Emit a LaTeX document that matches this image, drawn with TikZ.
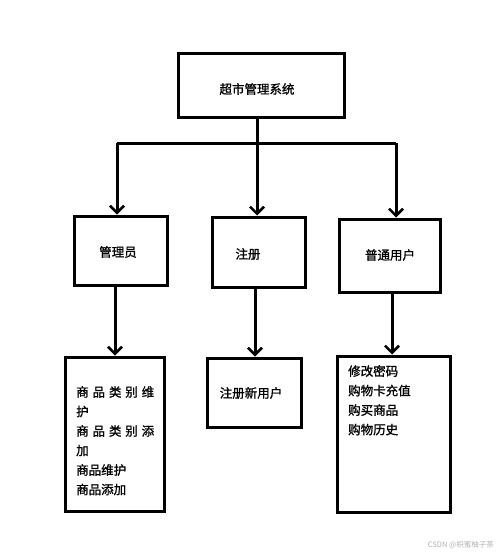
\documentclass[tikz,border=0pt]{standalone}
\usepackage{fontspec}
\newfontfamily\cjk{Noto Sans CJK SC}[FakeBold=1.2]
\newfontfamily\cjkthin{Noto Sans CJK SC}
\usetikzlibrary{arrows.meta}
\begin{document}
\begin{tikzpicture}[x=1pt,y=-1pt,
  box/.style={draw=black,line width=3pt,rectangle,inner sep=0pt},
  lbl/.style={font=\cjk\fontsize{12.5}{14}\selectfont,inner sep=0pt},
  conn/.style={line width=3pt},
  arr/.style={line width=3pt,-{Straight Barb[length=7pt,width=14pt,line width=2.5pt]}}]
\useasboundingbox (0,0) rectangle (500,554);
\fill[white] (0,0) rectangle (500,554);
% boxes
\node[box,minimum width=166pt,minimum height=64pt] (top) at (261,85) {};
\node[box,minimum width=93pt,minimum height=69pt] (adm) at (120.5,250.5) {};
\node[box,minimum width=93pt,minimum height=70pt] (reg) at (258.5,252) {};
\node[box,minimum width=101pt,minimum height=73pt] (usr) at (389.5,255.5) {};
\node[box,minimum width=99pt,minimum height=154pt] (admb) at (114.5,434) {};
\node[box,minimum width=94pt,minimum height=69pt] (regb) at (254,392.5) {};
\node[box,minimum width=113pt,minimum height=156pt] (usrb) at (393.5,434) {};
% labels
\node[lbl] (ttop) at (257,89) {超市管理系统};
\node[lbl] (tadm) at (118,252) {管理员};
\node[lbl] (treg) at (248,254) {注册};
\node[lbl] (tusr) at (390,255) {普通用户};
\node[lbl,anchor=north west,align=left] (tadmb) at (76,386) {%
\makebox[78pt][s]{商\hfill{}品\hfill{}类\hfill{}别\hfill{}维}\\[5.5pt]
护\\[5.5pt]
\makebox[78pt][s]{商\hfill{}品\hfill{}类\hfill{}别\hfill{}添}\\[5.5pt]
加\\[5.5pt]
商品维护\\[5.5pt]
商品添加};
\node[lbl] (tregb) at (251,393) {注册新用户};
\node[lbl,anchor=north west,align=left] (tusrb) at (348,365) {%
修改密码\\[5.5pt]
购物卡充值\\[5.5pt]
购买商品\\[5.5pt]
购物历史};
% connectors
\coordinate (j) at (257,143);
\coordinate (hl) at (117,143);
\coordinate (hr) at (396,143);
\draw[conn] (top.south -| j) -- (j);
\draw[conn] (hl) -- (hr);
\draw[arr] (hl) -- (hl |- adm.north);
\draw[arr] (j) -- (j |- reg.north);
\draw[arr] (hr) -- (hr |- usr.north);
\coordinate (a1) at (115,0);
\coordinate (a2) at (255,0);
\coordinate (a3) at (392,0);
\draw[arr] (adm.south -| a1) -- (admb.north -| a1);
\draw[arr] (reg.south -| a2) -- (regb.north -| a2);
\draw[arr] (usr.south -| a3) -- (usrb.north -| a3);
% watermark
\node[font=\cjkthin\fontsize{7.5}{9}\selectfont,text=black!30,anchor=east,inner sep=0pt] (wm) at (494,545) {CSDN @枳蜜柚子茶};
\end{tikzpicture}
\end{document}
